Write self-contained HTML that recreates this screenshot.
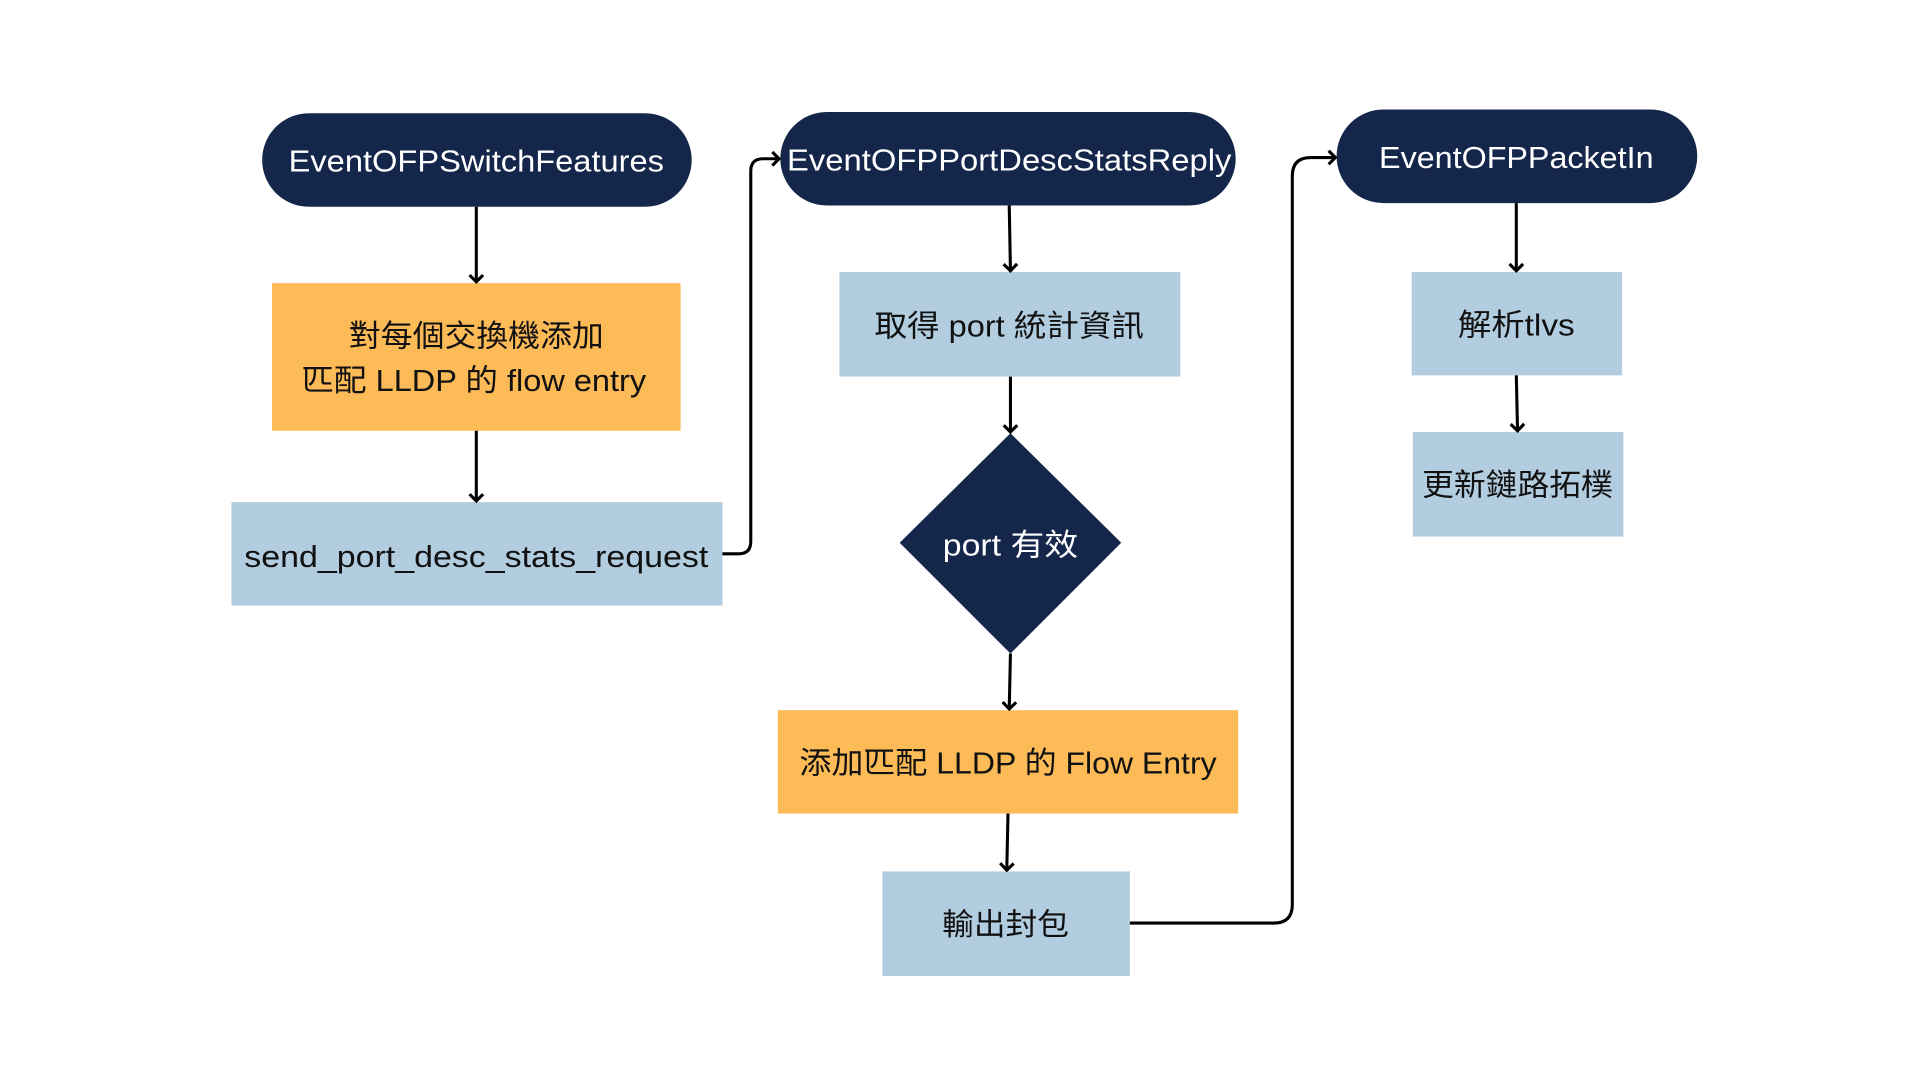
<!DOCTYPE html>
<html><head><meta charset="utf-8"><style>html,body{margin:0;padding:0;background:#fff}svg{display:block}</style></head>
<body>
<svg width="1920" height="1080" viewBox="0 0 1560 877.5" xmlns="http://www.w3.org/2000/svg">
<defs><marker id="a" markerWidth="14" markerHeight="14" refX="7" refY="7" orient="auto" markerUnits="userSpaceOnUse"><path d="M1.5,1.5 L7,7 L1.5,12.5" fill="none" stroke="#000" stroke-width="2.5"/></marker></defs>
<rect width="1560" height="877.5" fill="#fff"/>
<g fill="#15264b">
<rect x="213" y="92" width="349" height="76" rx="38"/>
<rect x="634" y="91" width="370" height="76" rx="38"/>
<rect x="1086" y="89" width="293" height="76" rx="38"/>
<polygon points="821,352 911,441 821,531 731,441"/>
</g>
<g fill="#fdbb58">
<rect x="221" y="230" width="332" height="120"/>
<rect x="632" y="577" width="374" height="84"/>
</g>
<g fill="#b2cde0">
<rect x="188" y="408" width="399" height="84"/>
<rect x="682" y="221" width="277" height="85"/>
<rect x="717" y="708" width="201" height="85"/>
<rect x="1147" y="221" width="171" height="84"/>
<rect x="1148" y="351" width="171" height="85"/>
</g>
<g stroke="#000" stroke-width="2.5" fill="none" marker-end="url(#a)">
<path d="M387,168 L387,229"/>
<path d="M387,350 L387,407"/>
<path d="M587,450 L600,450 Q610,450 610,440 L610,139 Q610,129 620,129 L633,129"/>
<path d="M820,167 L821,220"/>
<path d="M821,306 L821,351"/>
<path d="M821,531 L820,576"/>
<path d="M819,661 L818,707"/>
<path d="M918,750 L1035,750 Q1050,750 1050,735 L1050,143 Q1050,128 1065,128 L1085,128"/>
<path d="M1232,165 L1232,220"/>
<path d="M1232,305 L1233,350"/>
</g>
<g font-family="Liberation Sans, Noto Sans CJK TC, sans-serif" font-size="25" text-anchor="middle" dominant-baseline="central">
<g fill="#fff">
<text x="387" y="131" textLength="305" lengthAdjust="spacingAndGlyphs">EventOFPSwitchFeatures</text>
<text x="820" y="130" textLength="361" lengthAdjust="spacingAndGlyphs">EventOFPPortDescStatsReply</text>
<text x="1232" y="128" textLength="223" lengthAdjust="spacingAndGlyphs">EventOFPPacketIn</text>
<text x="821" y="443" textLength="110" lengthAdjust="spacingAndGlyphs">port 有效</text>
</g>
<g fill="#111">
<text x="387" y="273" textLength="207" lengthAdjust="spacingAndGlyphs">對每個交換機添加</text>
<text x="385" y="309" textLength="280" lengthAdjust="spacingAndGlyphs">匹配 LLDP 的 flow entry</text>
<text x="387" y="452" textLength="377" lengthAdjust="spacingAndGlyphs">send_port_desc_stats_request</text>
<text x="820" y="265" textLength="219" lengthAdjust="spacingAndGlyphs">取得 port 統計資訊</text>
<text x="819" y="620" textLength="339" lengthAdjust="spacingAndGlyphs">添加匹配 LLDP 的 Flow Entry</text>
<text x="817" y="751" textLength="103" lengthAdjust="spacingAndGlyphs">輸出封包</text>
<text x="1232" y="264" textLength="95" lengthAdjust="spacingAndGlyphs">解析tlvs</text>
<text x="1233" y="394" textLength="155" lengthAdjust="spacingAndGlyphs">更新鏈路拓樸</text>
</g>
</g>
</svg>
</body></html>
